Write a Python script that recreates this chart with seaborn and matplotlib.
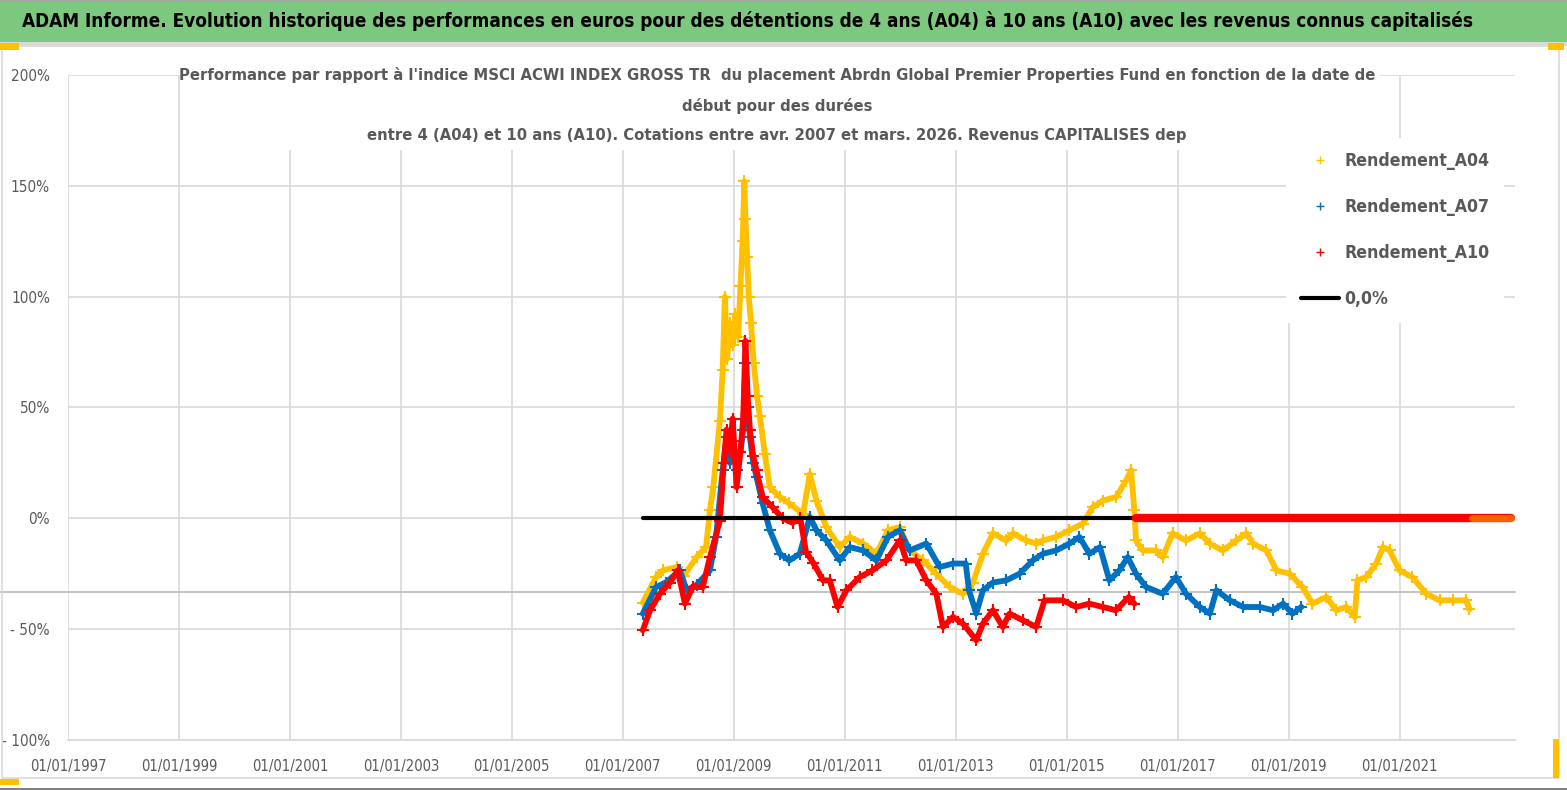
import matplotlib
matplotlib.use("Agg")
import matplotlib.pyplot as plt
import seaborn as sns
from matplotlib.lines import Line2D
from matplotlib.patches import Rectangle

# --- données (années décimales, % de performance relative) ---
a04_annees = [2007.36, 2007.6, 2007.72, 2007.97, 2008.1, 2008.33, 2008.5, 2008.57, 2008.63,
              2008.75, 2008.8, 2008.84, 2008.88, 2008.93, 2008.98, 2009.03, 2009.08, 2009.12,
              2009.16, 2009.19, 2009.21, 2009.24, 2009.27, 2009.31, 2009.36, 2009.42, 2009.47,
              2009.56, 2009.65, 2009.83, 2010.0, 2010.25, 2010.37, 2010.49, 2010.67, 2010.91,
              2011.09, 2011.33, 2011.57, 2011.78, 2011.99, 2012.17, 2012.41, 2012.65, 2012.89,
              2013.13, 2013.31, 2013.49, 2013.67, 2013.91, 2014.03, 2014.27, 2014.45, 2014.57,
              2014.81, 2015.05, 2015.29, 2015.47, 2015.65, 2015.89, 2016.07, 2016.16, 2016.22,
              2016.25, 2016.37, 2016.61, 2016.73, 2016.91, 2017.15, 2017.4, 2017.58, 2017.81,
              2018.06, 2018.24, 2018.36, 2018.6, 2018.78, 2019.02, 2019.25, 2019.43, 2019.68,
              2019.86, 2020.04, 2020.19, 2020.24, 2020.4, 2020.58, 2020.7, 2020.82, 2021.0,
              2021.23, 2021.48, 2021.72, 2021.96, 2022.2, 2022.26]
a04_valeurs = [-38, -26.5, -23.5, -22, -26, -17.5, -13, 3.6, 14,
               44, 67, 100, 72, 88, 78, 92, 82, 105,
               125, 152, 135, 118, 100, 88, 70, 55, 46,
               29, 14, 9.6, 6.7, 2, 20, 8, -4, -13,
               -8.4, -11.4, -16, -5.4, -4, -14.5, -19, -25, -31,
               -34, -29, -16, -6.8, -10, -6.8, -10, -11.4, -10,
               -8.4, -5.4, -2.4, 5, 8, 9.6, 17, 21.7, 3.6,
               -10, -14.5, -14.5, -17.5, -6.8, -10, -6.8, -11.4, -14.5,
               -10, -6.8, -11.4, -14.5, -23.5, -25, -31, -38.5, -35.5,
               -41.5, -40, -44.5, -28, -26.5, -20.4, -13, -14.5, -23.5,
               -26.5, -34, -37, -37, -37, -41]

a07_annees = [2007.36, 2007.6, 2007.77, 2008.03, 2008.15, 2008.33, 2008.57, 2008.68, 2008.8,
              2008.87, 2008.93, 2008.98, 2009.05, 2009.12, 2009.17, 2009.21, 2009.25, 2009.29,
              2009.35, 2009.41, 2009.52, 2009.65, 2009.83, 2010.0, 2010.19, 2010.37, 2010.49,
              2010.67, 2010.91, 2011.09, 2011.33, 2011.57, 2011.78, 2011.99, 2012.17, 2012.47,
              2012.71, 2012.95, 2013.18, 2013.24, 2013.37, 2013.49, 2013.67, 2013.91, 2014.15,
              2014.39, 2014.57, 2014.81, 2015.05, 2015.23, 2015.41, 2015.6, 2015.77, 2015.95,
              2016.1, 2016.25, 2016.43, 2016.73, 2016.97, 2017.15, 2017.4, 2017.58, 2017.7,
              2017.94, 2018.18, 2018.48, 2018.72, 2018.9, 2019.07, 2019.23]
a07_valeurs = [-43, -31, -29, -23.5, -32.5, -30, -23.5, -8.4, 21.7,
               36.7, 25, 35, 21.7, 30, 40, 70, 50, 36.7,
               25, 18.6, 6.7, -5.4, -16, -19, -16, 0.6, -5.4,
               -10, -19, -13, -14.5, -19, -8.4, -5.4, -14.5, -11.4,
               -22, -20.4, -20.4, -32.5, -43, -32.5, -29, -28, -25,
               -19, -16, -14.5, -11.4, -8.4, -16, -13, -28, -23.5,
               -17.5, -25, -31, -34, -26.5, -34, -40, -43, -32.5,
               -37, -40, -40, -41.5, -38.5, -43, -40]

a10_annees = [2007.36, 2007.49, 2007.67, 2007.85, 2007.99, 2008.12, 2008.26, 2008.44, 2008.57,
              2008.75, 2008.82, 2008.87, 2008.93, 2008.98, 2009.05, 2009.12, 2009.17, 2009.21,
              2009.25, 2009.29, 2009.35, 2009.41, 2009.52, 2009.7, 2009.88, 2010.06, 2010.2,
              2010.3, 2010.43, 2010.61, 2010.73, 2010.87, 2011.03, 2011.27, 2011.5, 2011.75,
              2011.99, 2012.11, 2012.29, 2012.47, 2012.65, 2012.77, 2012.95, 2013.13, 2013.37,
              2013.49, 2013.67, 2013.85, 2013.97, 2014.21, 2014.45, 2014.6, 2014.93, 2015.17,
              2015.41, 2015.65, 2015.89, 2016.12, 2016.22]
a10_valeurs = [-50.5, -41.5, -34, -29, -23.5, -38.5, -31, -31, -17.5,
               -1, 25, 40, 30, 45, 14, 30, 45, 80,
               55, 40, 28, 21.7, 9.6, 5, 0, -2, 0,
               -15, -20, -28, -28, -40, -32.5, -26.5, -23.5, -19,
               -10, -19, -19, -28, -34, -49, -44.5, -47.5, -55,
               -47.5, -41.5, -49, -43, -46, -49, -37, -37, -40,
               -38.5, -40, -41.5, -35.5, -38.5]

# périodes où les rendements valent 0 (pas encore de recul suffisant)
a10_zero_annees = [2016.25, 2023.0]
a04_zero_annees = [2022.3, 2023.0]
zero_annees = [2007.36, 2016.25]
zero_valeurs = [0, 0]

ticks_annees = list(range(1997, 2023, 2))
ticks_labels = ["01/01/%d" % a for a in ticks_annees]
y_ticks = [-100, -50, 0, 50, 100, 150, 200]
y_labels = ["- 100%", "- 50%", "0%", "50%", "100%", "150%", "200%"]
axe_h = -33.4

titre = ("ADAM Informe. Evolution historique des performances en euros pour des détentions "
         "de 4 ans (A04) à 10 ans (A10) avec les revenus connus capitalisés")
sous_titre = ("Performance par rapport à l'indice MSCI ACWI INDEX GROSS TR  du placement Abrdn "
              "Global Premier Properties Fund en fonction de la date de\ndébut pour des durées\n"
              "entre 4 (A04) et 10 ans (A10). Cotations entre avr. 2007 et mars. 2026. "
              "Revenus CAPITALISES dep")

JAUNE, BLEU, ROUGE = "#FFC000", "#0070C0", "#FF0000"
GRIS = "#595959"

sns.set_theme(style="white")
plt.rcParams["font.family"] = ["DejaVu Sans"]
plt.rcParams["font.stretch"] = "condensed"

fig = plt.figure(figsize=(15.67, 7.90), dpi=100)
ax = fig.add_axes([0.0434, 0.0633, 0.9234, 0.8418])

# bandeau vert du haut et cadre
fig.patches.append(Rectangle((0, 0.947), 1, 0.05, transform=fig.transFigure,
                             facecolor="#7DC87F", edgecolor="none", zorder=0))
fig.patches.append(Rectangle((0, 0.942), 1, 0.005, transform=fig.transFigure,
                             facecolor="#D9D9D9", edgecolor="none", zorder=0))
fig.patches.append(Rectangle((0.001, 0.015), 0.994, 0.927, transform=fig.transFigure,
                             facecolor="none", edgecolor="#D9D9D9", lw=1.2, zorder=0))
fig.patches.append(Rectangle((0, 0.997), 1, 0.003, transform=fig.transFigure,
                             facecolor="#A6A6A6", edgecolor="none", zorder=0))
fig.patches.append(Rectangle((0, 0.0), 1, 0.003, transform=fig.transFigure,
                             facecolor="#808080", edgecolor="none", zorder=0))
for (x0, y0, w, h) in [(0, 0.937, 0.012, 0.008), (0, 0.006, 0.012, 0.008),
                       (0.988, 0.937, 0.01, 0.008), (0.991, 0.015, 0.004, 0.05)]:
    fig.patches.append(Rectangle((x0, y0), w, h, transform=fig.transFigure,
                                 facecolor=JAUNE, edgecolor="none", zorder=1))
fig.text(0.014, 0.973, titre, ha="left", va="center", fontsize=13.6, fontweight="bold",
         color="black")

# séries
for annees, valeurs, coul in [(a04_annees, a04_valeurs, JAUNE),
                              (a07_annees, a07_valeurs, BLEU),
                              (a10_annees, a10_valeurs, ROUGE)]:
    sns.lineplot(x=annees, y=valeurs, color=coul, lw=4.2, marker="+", markersize=9,
                 markeredgewidth=1.5, markeredgecolor=coul, ax=ax, zorder=3, sort=False)

sns.lineplot(x=zero_annees, y=zero_valeurs, color="black", lw=3, ax=ax, zorder=4)
sns.lineplot(x=a10_zero_annees, y=[0] * len(a10_zero_annees), color=ROUGE, lw=6, ax=ax, zorder=4)
sns.lineplot(x=a04_zero_annees, y=[0] * len(a04_zero_annees), color=JAUNE, lw=5, alpha=0.5,
             ax=ax, zorder=5)

ax.axhline(axe_h, xmin=-0.047, xmax=1, color="#BFBFBF", lw=1.3, clip_on=False, zorder=2)

ax.set_xlim(1997, 2023.08)
ax.set_ylim(-100, 200)
ax.set_xticks(ticks_annees)
ax.set_xticklabels(ticks_labels, fontsize=10.6, color=GRIS)
ax.set_yticks(y_ticks)
ax.set_yticklabels(y_labels, fontsize=11, color=GRIS)
ax.tick_params(axis="x", pad=14, length=0)
ax.tick_params(axis="y", pad=13, length=0)
ax.grid(True, color="#D9D9D9", lw=1.2)
ax.set_axisbelow(True)
for s in ["top", "right", "left"]:
    ax.spines[s].set_visible(False)
ax.spines["bottom"].set_color("#D9D9D9")

# cadre blanc du titre du graphique
ax.add_patch(Rectangle((0.0774, 0.887), 0.8293, 0.14, transform=ax.transAxes,
                       facecolor="white", edgecolor="none", zorder=6, clip_on=False))
ax.text(0.49, 1.012, sous_titre, transform=ax.transAxes, ha="center", va="top",
        fontsize=11.85, fontweight="bold", color=GRIS, linespacing=2.15, zorder=7)

# légende
handles = [Line2D([], [], ls="none", marker="+", color=JAUNE, markersize=6),
           Line2D([], [], ls="none", marker="+", color=BLEU, markersize=6),
           Line2D([], [], ls="none", marker="+", color=ROUGE, markersize=6),
           Line2D([], [], color="black", lw=3)]
leg = ax.legend(handles, ["Rendement_A04", "Rendement_A07", "Rendement_A10", "0,0%"],
                loc="upper left", bbox_to_anchor=(0.836, 0.919), frameon=True,
                fancybox=False, edgecolor="none", facecolor="white", framealpha=1,
                labelspacing=1.6, handlelength=2.2, handletextpad=0.3,
                borderpad=0.8, prop={"size": 12.7, "weight": "bold"})
for t in leg.get_texts():
    t.set_color(GRIS)
leg.set_zorder(8)

fig.savefig("out.png", dpi=100)
